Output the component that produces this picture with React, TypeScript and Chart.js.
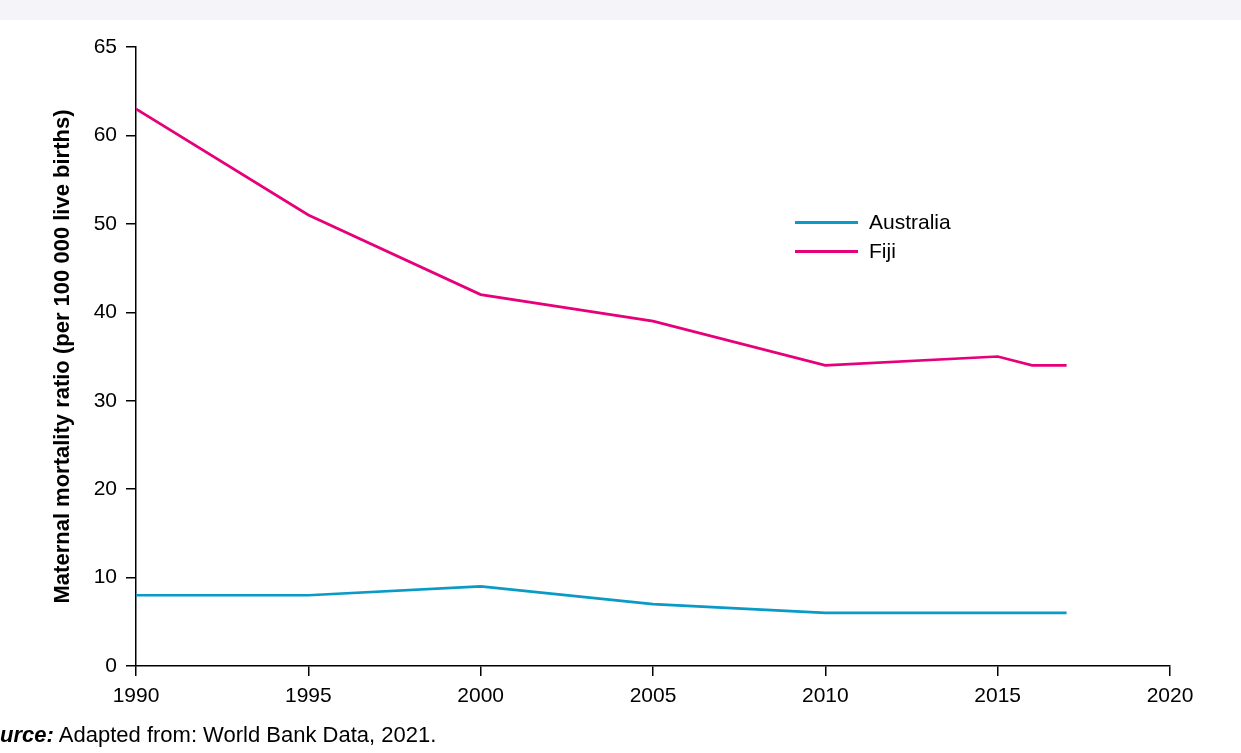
import React, { useEffect, useRef } from "react";
import { Chart, registerables } from "chart.js";

Chart.register(...registerables);

const years = [1990, 1995, 2000, 2005, 2010, 2015, 2016, 2017];
const australia = [8, 8, 9, 7, 6, 6, 6, 6];
const fiji = [63, 51, 42, 39, 34, 35, 34, 34];
const seriesNames = ["Australia", "Fiji"];
const seriesColors = ["#0a9ac6", "#e6007a"];
const xTickValues = [1990, 1995, 2000, 2005, 2010, 2015, 2020];
const xTickLabels = ["1990", "1995", "2000", "2005", "2010", "2015", "2020"];
const yTickValues = [0, 10, 20, 30, 40, 50, 60, 70];
const yTickLabels = ["0", "10", "20", "30", "40", "50", "60", "65"];
const yTitle = "Maternal mortality ratio (per 100 000 live births)";
const sourceBold = "Source:";
const sourceText = " Adapted from: World Bank Data, 2021.";

const FONT = "'Liberation Sans', Arial, Helvetica, sans-serif";

export default function App() {
  const canvasRef = useRef<HTMLCanvasElement | null>(null);

  useEffect(() => {
    const canvas = canvasRef.current;
    if (!canvas) return;
    const chart = new Chart(canvas, {
      type: "line",
      data: {
        datasets: [
          {
            label: seriesNames[0],
            data: years.map((y, i) => ({ x: y, y: australia[i] })),
            borderColor: seriesColors[0],
            backgroundColor: seriesColors[0],
            borderWidth: 2.7,
            pointRadius: 0,
            tension: 0,
          },
          {
            label: seriesNames[1],
            data: years.map((y, i) => ({ x: y, y: fiji[i] })),
            borderColor: seriesColors[1],
            backgroundColor: seriesColors[1],
            borderWidth: 2.7,
            pointRadius: 0,
            tension: 0,
          },
        ],
      },
      options: {
        responsive: false,
        animation: false,
        events: [],
        layout: { padding: { top: 47, right: 71, left: 0, bottom: 0 } },
        plugins: {
          legend: { display: false },
          tooltip: { enabled: false },
        },
        scales: {
          x: {
            type: "linear",
            min: 1990,
            max: 2020,
            afterBuildTicks: (axis: any) => {
              axis.ticks = xTickValues.map((v) => ({ value: v }));
            },
            afterFit: (axis: any) => {
              axis.height = 87;
            },
            ticks: {
              color: "#000",
              font: { family: FONT, size: 21 },
              padding: 8,
              maxRotation: 0,
              autoSkip: false,
              callback: (v: any) => {
                const i = xTickValues.indexOf(Number(v));
                return i >= 0 ? xTickLabels[i] : "";
              },
            },
            grid: {
              drawOnChartArea: false,
              drawTicks: true,
              tickLength: 10,
              color: "#000",
              lineWidth: 1.5,
            },
            border: { display: true, color: "#000", width: 1.5 },
          },
          y: {
            type: "linear",
            min: 0,
            max: 70,
            afterBuildTicks: (axis: any) => {
              axis.ticks = yTickValues.map((v) => ({ value: v }));
            },
            afterFit: (axis: any) => {
              axis.width = 136;
            },
            ticks: {
              color: "#000",
              font: { family: FONT, size: 21 },
              padding: 9,
              autoSkip: false,
              callback: (v: any) => {
                const i = yTickValues.indexOf(Number(v));
                return i >= 0 ? yTickLabels[i] : "";
              },
            },
            grid: {
              drawOnChartArea: false,
              drawTicks: true,
              tickLength: 10,
              color: "#000",
              lineWidth: 1.5,
            },
            border: { display: true, color: "#000", width: 1.5 },
            title: {
              display: true,
              text: yTitle,
              color: "#000",
              font: { family: FONT, size: 22, weight: "bold" },
              padding: { top: 50, bottom: 0 },
            },
          },
        },
      },
    });
    return () => chart.destroy();
  }, []);

  return (
    <div
      style={{
        position: "absolute",
        left: 0,
        top: 0,
        width: 1241,
        height: 753,
        overflow: "hidden",
        background: "#fff",
        fontFamily: FONT,
      }}
    >
      <div
        style={{
          position: "absolute",
          left: 0,
          top: 0,
          width: 1241,
          height: 20,
          background: "#f5f5f9",
        }}
      />
      <canvas
        ref={canvasRef}
        width={1241}
        height={753}
        style={{ position: "absolute", left: 0, top: 0, width: 1241, height: 753 }}
      />
      {seriesNames.map((name, i) => (
        <div
          key={name}
          style={{
            position: "absolute",
            left: 795,
            top: 208 + i * 29,
            height: 28,
            display: "flex",
            alignItems: "center",
            fontSize: 21,
            color: "#000",
            whiteSpace: "nowrap",
          }}
        >
          <div
            style={{
              width: 63,
              height: 3,
              background: seriesColors[i],
              marginRight: 11,
            }}
          />
          <span>{name}</span>
        </div>
      ))}
      <div
        style={{
          position: "absolute",
          left: -28,
          top: 721,
          fontSize: 22,
          color: "#000",
          whiteSpace: "nowrap",
          lineHeight: "28px",
        }}
      >
        <b>
          <i>{sourceBold}</i>
        </b>
        {sourceText}
      </div>
    </div>
  );
}
